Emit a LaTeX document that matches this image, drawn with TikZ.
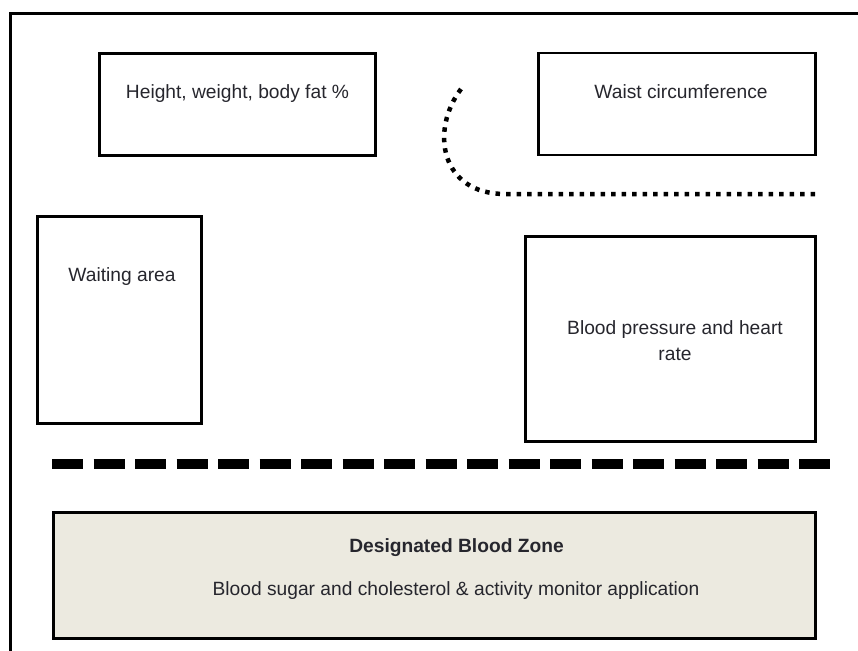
\documentclass[tikz,border=0pt]{standalone}
\usepackage{fontspec}
\setmainfont{Liberation Sans}
\definecolor{zonefill}{RGB}{236,234,224}
\definecolor{txt}{RGB}{38,38,45}
\begin{document}
\begin{tikzpicture}[x=1pt,y=-1pt,
  room/.style={draw=black, line width=2.8pt, rectangle, inner sep=0pt, outer sep=0pt},
  lbl/.style={text=txt, font=\fontsize{19.2}{26}\selectfont, inner sep=0pt, anchor=base, align=center},
  boldlbl/.style={lbl, font=\fontsize{19.2}{26}\selectfont\bfseries},
  framewall/.style={line width=3pt, line cap=butt},
  barrier/.style={line width=10pt, dash pattern=on 31.3pt off 10.2pt},
  queue/.style={line width=4.5pt, dash pattern=on 4.5pt off 6pt}]
\useasboundingbox (0,0) rectangle (858,650);
% outer wall
\coordinate (fb) at (10,652);
\coordinate (fc) at (10,14);
\coordinate (fr) at (860,14);
\draw[framewall] (fb) -- (fc) -- (fr);
% rooms
\node[room, minimum width=276pt, minimum height=102pt] (hw) at (237.5,104.5) {};
\node[room, minimum width=277pt, minimum height=102pt] (waist) at (677,104) {};
\node[room, minimum width=164pt, minimum height=207pt] (wait) at (119.5,320) {};
\node[room, minimum width=290pt, minimum height=205pt] (bp) at (670.5,339) {};
\node[room, fill=zonefill, minimum width=762pt, minimum height=126pt] (zone) at (434.5,575.5) {};
% labels
\node[lbl] (t1) at (237.5,99) {Height, weight, body fat \%};
\node[lbl] (t2) at (681,99) {Waist circumference};
\node[lbl] (t3) at (122,281) {Waiting area};
\node[lbl] (t4) at (675,360) {Blood pressure and heart\\rate};
\node[boldlbl] (t5) at (456.5,552) {Designated Blood Zone};
\node[lbl] (t6) at (456,595) {Blood sugar and cholesterol \& activity monitor application};
% dashed barrier
\coordinate (d1) at (52,464);
\coordinate (d2) at (834,464);
\draw[barrier] (d1) -- (d2);
% dotted queue line
\coordinate (q1) at (461,89);
\coordinate (q2) at (505,194);
\coordinate (q3) at (818,194);
\draw[queue] (q1) .. controls (430,130) and (440,194) .. (q2) -- (q3);
\end{tikzpicture}
\end{document}
